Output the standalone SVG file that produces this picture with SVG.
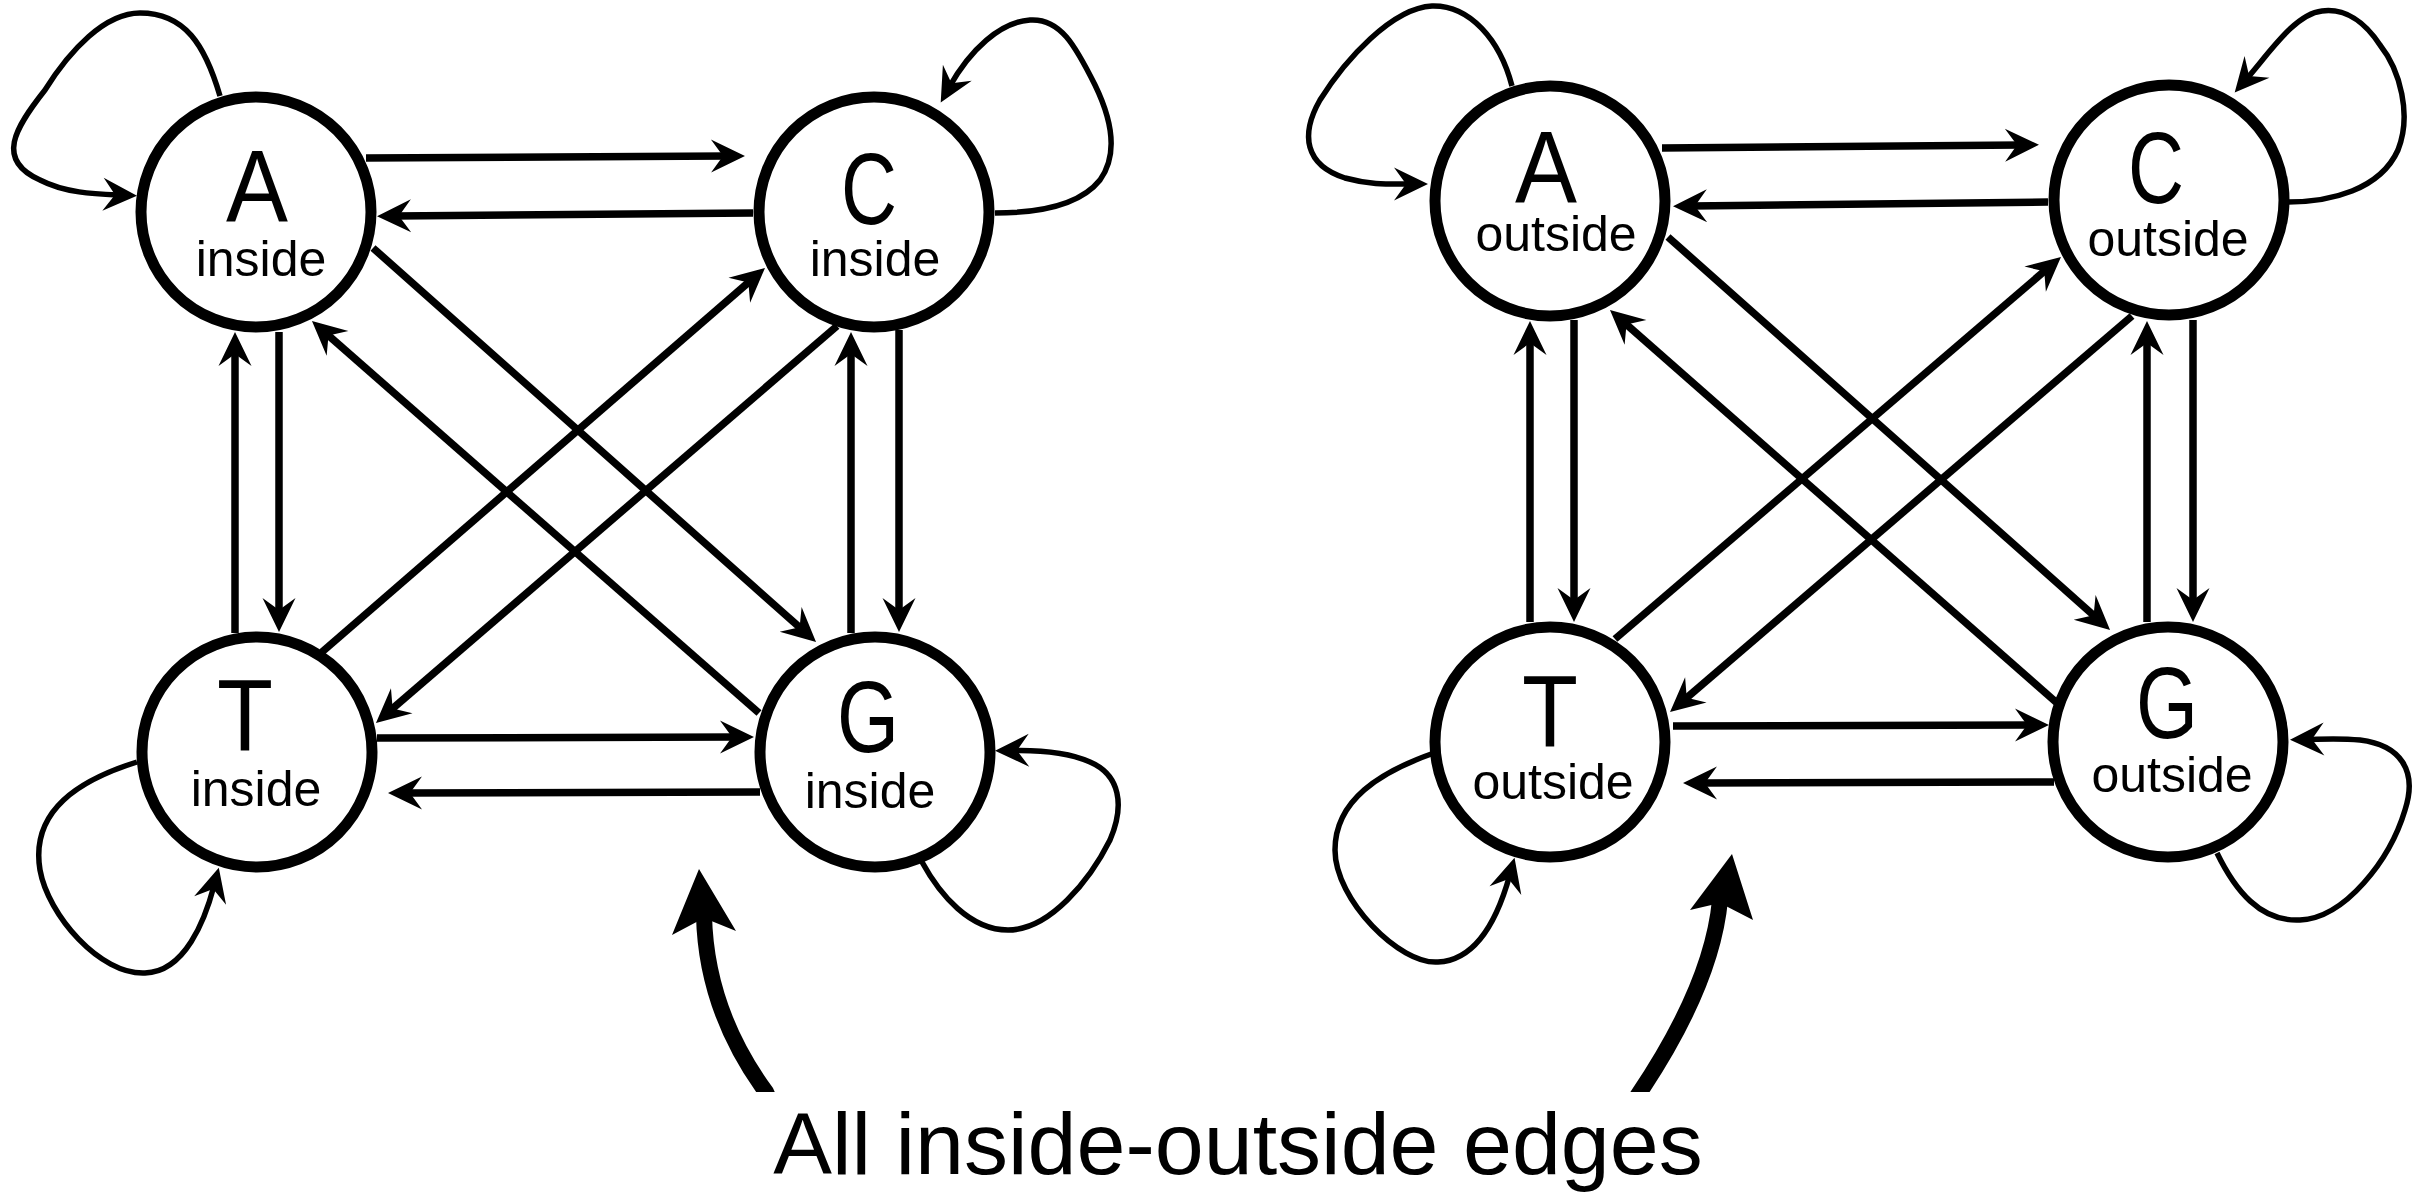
<svg xmlns="http://www.w3.org/2000/svg" width="2430" height="1192" viewBox="0 0 2430 1192">
  <style>
    .node circle { fill: #ffffff; stroke: #000000; stroke-width: 11; }
    .label { font-family: "Liberation Sans", Arial, sans-serif; text-anchor: middle; fill: #000; }
    .sym { font-size: 102px; }
    .sub { font-size: 50px; }
    .edge { fill: none; stroke: #000; stroke-width: 7.5; marker-end: url(#head); }
    .loop { fill: none; stroke: #000; stroke-width: 5.5; marker-end: url(#head); }
    .big { fill: none; stroke: #000; stroke-width: 16; }
    .caption { font-family: "Liberation Sans", Arial, sans-serif; font-size: 88px; text-anchor: middle; fill: #000; }
  </style>
  <defs>
    <!-- notched arrowhead; the path ends 18px behind the tip -->
    <marker id="head" markerUnits="userSpaceOnUse" viewBox="-20 -20 40 40" markerWidth="40" markerHeight="40" refX="0" refY="0" orient="auto">
      <path d="M18,0 L-16,-16.5 L-4,0 L-16,16.5 Z" fill="#000"/>
    </marker>
    <clipPath id="above-caption">
      <rect x="0" y="0" width="2430" height="1092"/>
    </clipPath>
  </defs>
  <rect width="2430" height="1192" fill="#ffffff"/>

  <g id="connectors">
    <!-- inside: straight edges -->
    <path class="edge" d="M366,158 L727,156"/>
    <path class="edge" d="M753,213 L395,216"/>
    <path class="edge" d="M279,332 L279,614"/>
    <path class="edge" d="M235,633 L235,350"/>
    <path class="edge" d="M851,633 L851,350"/>
    <path class="edge" d="M899,330 L899,614"/>
    <path class="edge" d="M373,248 L802.6,630"/>
    <path class="edge" d="M759,713 L325.5,332.9"/>
    <path class="edge" d="M322,652 L751.4,279.8"/>
    <path class="edge" d="M837,326 L389.6,711.2"/>
    <path class="edge" d="M377,738 L736,737"/>
    <path class="edge" d="M760,792 L406,793"/>
    <!-- inside: self loops -->
    <path class="loop" d="M220,96 C205,45 185,13 140,13 C105,13 70,50 45,90 C15,128 -5,160 40,180 C65,193 95,194 119,195"/>
    <path class="loop" d="M995,213 C1040,213 1080,205 1100,180 C1118,155 1112,120 1095,85 C1075,45 1060,18 1030,20 C1000,22 970,50 949.5,86.7"/>
    <path class="loop" d="M137,762 C80,780 30,810 40,870 C48,915 100,975 145,973 C185,972 205,920 214.2,885.1"/>
    <path class="loop" d="M922,862 C940,895 970,930 1008,930 C1050,930 1090,880 1110,840 C1125,805 1120,775 1090,762 C1070,753 1040,750 1013,750.5"/>

    <!-- outside: straight edges -->
    <path class="edge" d="M1662,148 L2021,145"/>
    <path class="edge" d="M2048,202 L1691,206"/>
    <path class="edge" d="M1574,320 L1574,604"/>
    <path class="edge" d="M1530,622 L1530,339"/>
    <path class="edge" d="M2147,622 L2147,339"/>
    <path class="edge" d="M2193,320 L2193,604"/>
    <path class="edge" d="M1668,237 L2096.6,618"/>
    <path class="edge" d="M2057,703 L1623.5,321.9"/>
    <path class="edge" d="M1615,639 L2047.3,268.7"/>
    <path class="edge" d="M2132,316 L1683.7,700.3"/>
    <path class="edge" d="M1673,726 L2031,725"/>
    <path class="edge" d="M2054,782 L1701,783"/>
    <!-- outside: self loops -->
    <path class="loop" d="M1512,86 C1500,40 1470,5 1432,6 C1392,8 1345,60 1320,100 C1300,135 1305,165 1345,178 C1370,185 1390,184 1410,184"/>
    <path class="loop" d="M2288,202 C2330,202 2380,190 2398,150 C2412,115 2400,70 2380,45 C2365,22 2345,8 2322,11 C2295,14 2270,52 2246.5,79"/>
    <path class="loop" d="M1434,753 C1380,772 1335,800 1335,850 C1335,900 1400,965 1438,962 C1480,960 1500,910 1509.7,875.2"/>
    <path class="loop" d="M2217,853 C2235,890 2260,922 2300,920 C2345,918 2390,860 2405,810 C2418,770 2400,745 2360,740 C2340,738 2325,739 2308,739.4"/>
  </g>

  <!-- inside nodes -->
  <g id="A-inside" class="node">
    <circle cx="256" cy="212" r="115"/>
    <text class="label"><tspan class="sym" x="257" y="222" textLength="62" lengthAdjust="spacingAndGlyphs">A</tspan><tspan class="sub" x="261" y="276">inside</tspan></text>
  </g>
  <g id="C-inside" class="node">
    <circle cx="874" cy="212" r="115"/>
    <text class="label"><tspan class="sym" x="869" y="224" textLength="56" lengthAdjust="spacingAndGlyphs">C</tspan><tspan class="sub" x="875" y="276">inside</tspan></text>
  </g>
  <g id="T-inside" class="node">
    <circle cx="257" cy="752" r="115"/>
    <text class="label"><tspan class="sym" x="245" y="751" textLength="56" lengthAdjust="spacingAndGlyphs">T</tspan><tspan class="sub" x="256" y="806">inside</tspan></text>
  </g>
  <g id="G-inside" class="node">
    <circle cx="875" cy="752" r="115"/>
    <text class="label"><tspan class="sym" x="868" y="752" textLength="62" lengthAdjust="spacingAndGlyphs">G</tspan><tspan class="sub" x="870" y="808">inside</tspan></text>
  </g>

  <!-- outside nodes -->
  <g id="A-outside" class="node">
    <circle cx="1550" cy="201" r="115"/>
    <text class="label"><tspan class="sym" x="1546" y="203" textLength="62" lengthAdjust="spacingAndGlyphs">A</tspan><tspan class="sub" x="1556" y="251">outside</tspan></text>
  </g>
  <g id="C-outside" class="node">
    <circle cx="2169" cy="200" r="115"/>
    <text class="label"><tspan class="sym" x="2156" y="203" textLength="56" lengthAdjust="spacingAndGlyphs">C</tspan><tspan class="sub" x="2168" y="256">outside</tspan></text>
  </g>
  <g id="T-outside" class="node">
    <circle cx="1550" cy="742" r="115"/>
    <text class="label"><tspan class="sym" x="1550" y="747" textLength="56" lengthAdjust="spacingAndGlyphs">T</tspan><tspan class="sub" x="1553" y="799">outside</tspan></text>
  </g>
  <g id="G-outside" class="node">
    <circle cx="2168" cy="742" r="115"/>
    <text class="label"><tspan class="sym" x="2167" y="738" textLength="62" lengthAdjust="spacingAndGlyphs">G</tspan><tspan class="sub" x="2172" y="792">outside</tspan></text>
  </g>

  <!-- caption with its two heavy pointers -->
  <g id="caption">
    <g clip-path="url(#above-caption)">
      <path class="big" d="M774,1110 L766,1092 Q706,1010 704,915"/>
      <path class="big" d="M1628,1110 L1638,1095 Q1712,985 1720,900"/>
    </g>
    <polygon points="699,869 672,935 704,918 736,931" fill="#000"/>
    <polygon points="1732,854 1690,910 1720,903 1753,920" fill="#000"/>
    <text class="caption" x="1238" y="1174">All inside-outside edges</text>
  </g>
</svg>
